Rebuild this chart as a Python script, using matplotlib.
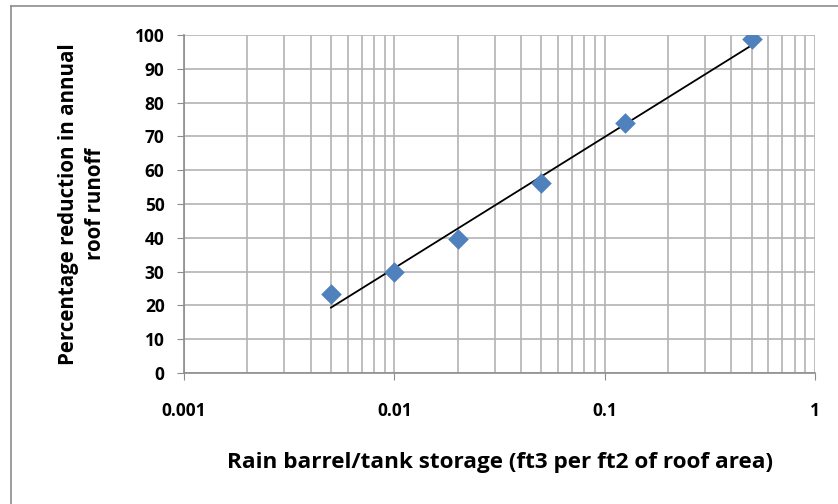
import numpy as np
import matplotlib
matplotlib.use("Agg")
import matplotlib.pyplot as plt
from matplotlib.ticker import FixedLocator, NullFormatter, LogLocator

storage = [0.005, 0.01, 0.02, 0.05, 0.125, 0.5]
reduction = [23.5, 29.8, 39.5, 56.2, 74.0, 98.8]
x_ticks = [0.001, 0.01, 0.1, 1]
x_tick_labels = ["0.001", "0.01", "0.1", "1"]
y_ticks = list(range(0, 101, 10))

plt.rcParams['font.family'] = ['Open Sans', 'DejaVu Sans']

fig = plt.figure(figsize=(8.38, 5.04), dpi=100)
ax = fig.add_axes([184 / 838, 1 - 373 / 504, (815 - 184) / 838, (373 - 35) / 504])

# log trend line fitted to the points
a, b = np.polyfit(np.log(storage), reduction, 1)
xs = np.array([storage[0], storage[-1]])
ax.plot(xs, a * np.log(xs) + b, color='black', lw=1.3, zorder=3)
ax.scatter(storage, reduction, marker='D', s=110, color='#4F81BD', zorder=4, linewidths=0)

ax.set_xscale('log')
ax.set_xlim(0.001, 1)
ax.set_ylim(0, 100)
ax.xaxis.set_major_locator(FixedLocator(x_ticks))
ax.set_xticklabels(x_tick_labels)
ax.xaxis.set_minor_locator(LogLocator(base=10, subs=np.arange(2, 10)))
ax.xaxis.set_minor_formatter(NullFormatter())
ax.set_yticks(y_ticks)

ax.grid(True, which='both', color='#b3b3b3', lw=1.2)
ax.set_axisbelow(True)
for s in ['top', 'right']:
    ax.spines[s].set_visible(False)
for s in ['left', 'bottom']:
    ax.spines[s].set_color('#8c8c8c')
    ax.spines[s].set_linewidth(1.2)
ax.tick_params(axis='x', which='major', length=5, color='#8c8c8c', pad=16, labelsize=12.5)
ax.tick_params(axis='x', which='minor', length=0)
ax.tick_params(axis='y', length=5, color='#8c8c8c', pad=9, labelsize=12.5)
for lbl in ax.get_xticklabels() + ax.get_yticklabels():
    lbl.set_fontweight('bold')

ax.set_xlabel('Rain barrel/tank storage (ft3 per ft2 of roof area)', fontsize=16.2,
              fontweight='bold', labelpad=23)
ax.set_ylabel('Percentage reduction in annual\nroof runoff', fontsize=14.8,
              fontweight='bold', labelpad=21, linespacing=1.35)

# outer chart border
fig.add_artist(plt.Line2D([11 / 838, 11 / 838], [0, 1 - 6 / 504], color='#8c8c8c', lw=1.2))
fig.add_artist(plt.Line2D([11 / 838, 1], [1 - 6 / 504, 1 - 6 / 504], color='#8c8c8c', lw=1.2))

fig.savefig('out.png', dpi=100)
